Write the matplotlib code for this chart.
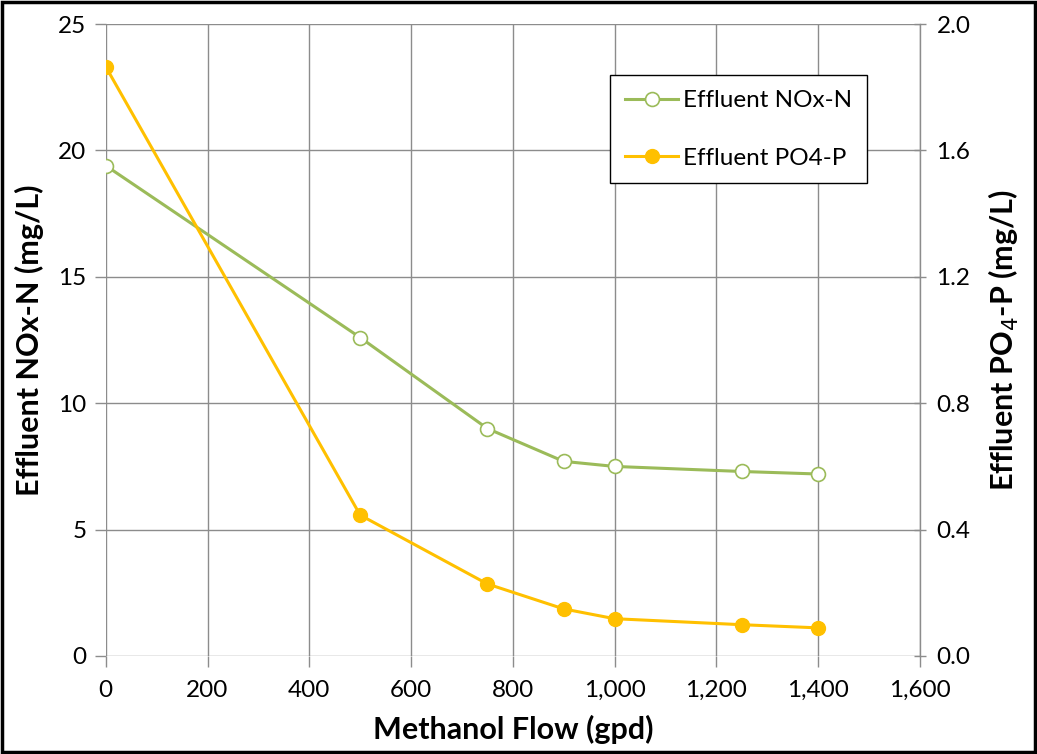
import matplotlib
matplotlib.use("Agg")
import matplotlib.pyplot as plt
from matplotlib.ticker import FuncFormatter, MultipleLocator

plt.rcParams['font.family'] = ['Lato', 'DejaVu Sans']

# Methanol dose (gpd) and effluent concentrations
methanol_flow = [0, 500, 750, 900, 1000, 1250, 1400]
nox_n = [19.4, 12.6, 9.0, 7.7, 7.5, 7.3, 7.2]
po4_p = [1.865, 0.446, 0.228, 0.149, 0.118, 0.099, 0.089]

green = '#9BBB59'
orange = '#FFC000'
grid_c = '#8C8C8C'

fig = plt.figure(figsize=(10.37, 7.54), dpi=100)
ax = fig.add_axes([0.102, 0.130, 0.785, 0.838])
ax2 = ax.twinx()

ln1, = ax.plot(methanol_flow, nox_n, color=green, lw=2.2, marker='o', ms=10,
               mfc='white', mec=green, mew=1.2, label='Effluent NOx-N', zorder=3)
ln2, = ax2.plot(methanol_flow, po4_p, color=orange, lw=2.2, marker='o', ms=10,
                mfc=orange, mec=orange, label='Effluent PO4-P', zorder=3)

ax.set_xlim(0, 1600)
ax.set_ylim(0, 25)
ax2.set_ylim(0, 2.0)
ax.xaxis.set_major_locator(MultipleLocator(200))
ax.yaxis.set_major_locator(MultipleLocator(5))
ax2.yaxis.set_major_locator(MultipleLocator(0.4))
ax.xaxis.set_major_formatter(FuncFormatter(lambda v, p: f'{int(v):,}'))
ax2.yaxis.set_major_formatter(FuncFormatter(lambda v, p: f'{v:.1f}'))

ax.grid(True, color=grid_c, lw=1.0)
ax.set_axisbelow(True)
for a in (ax, ax2):
    for s in ('top', 'left', 'bottom'):
        a.spines[s].set_visible(False)
ax.spines['right'].set_visible(False)
ax2.spines['right'].set_color(grid_c)
ax2.spines['right'].set_linewidth(1.0)

ax.tick_params(axis='both', colors=grid_c, labelcolor='black', labelsize=17.5,
               length=8, width=1.0, direction='out')
ax.tick_params(axis='x', pad=9)
ax.tick_params(axis='y', pad=6)
ax2.tick_params(axis='y', colors=grid_c, labelcolor='black', labelsize=17.5,
                length=8, width=1.0, direction='inout', pad=8)

ax.set_xlabel('Methanol Flow (gpd)', fontsize=22, fontweight='bold', labelpad=10)
ax.set_ylabel('Effluent NOx-N (mg/L)', fontsize=22, fontweight='bold', labelpad=10)
ax2.set_ylabel('Effluent PO$_4$-P (mg/L)', fontsize=22, fontweight='bold', labelpad=12)

ax2.legend(handles=[ln1, ln2], loc='upper right', bbox_to_anchor=(0.95, 0.938),
           fontsize=17.5, frameon=True, fancybox=False, edgecolor='black',
           framealpha=1, borderpad=0.6, labelspacing=1.5, handlelength=2.2,
           handletextpad=0.2)

fig.patches.append(plt.Rectangle((0.002, 0.002), 0.996, 0.996, transform=fig.transFigure,
                                 fill=False, edgecolor='black', lw=2.5))

fig.savefig('out.png', dpi=100, facecolor='white')
